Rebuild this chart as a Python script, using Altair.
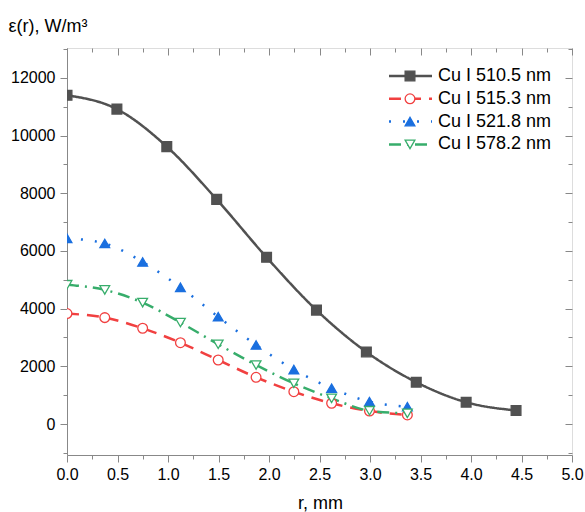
import altair as alt
import pandas as pd

series = ["Cu I 510.5 nm", "Cu I 515.3 nm", "Cu I 521.8 nm", "Cu I 578.2 nm"]

r_510 = [0, 0.494, 0.988, 1.482, 1.976, 2.47, 2.964, 3.458, 3.952, 4.446]
e_510 = [11400, 10920, 9620, 7790, 5780, 3950, 2500, 1450, 755, 470]

r_other = [0, 0.374, 0.749, 1.123, 1.497, 1.872, 2.246, 2.62, 2.995, 3.37]
e_515 = [3830, 3690, 3320, 2820, 2220, 1620, 1120, 720, 450, 315]
e_521 = [6440, 6260, 5620, 4740, 3720, 2740, 1890, 1240, 775, 600]
e_578 = [4830, 4650, 4210, 3520, 2765, 2045, 1410, 890, 460, 370]

x_major = [0, 0.5, 1.0, 1.5, 2.0, 2.5, 3.0, 3.5, 4.0, 4.5, 5.0]
x_minor = [0.25, 0.75, 1.25, 1.75, 2.25, 2.75, 3.25, 3.75, 4.25, 4.75]
y_major = [0, 2000, 4000, 6000, 8000, 10000, 12000]
y_minor = [-1000, 1000, 3000, 5000, 7000, 9000, 11000, 13000]

colors = ["#515151", "#F14040", "#1A6FDF", "#37AD6B"]
fills = ["#515151", "#ffffff", "#1A6FDF", "#ffffff"]
shapes = ["square", "circle", "triangle-up", "triangle-down"]
dashes = [[1, 0], [12, 8], [2, 12], [12, 6, 2, 6]]

rows = []
for r, e in zip(r_510, e_510):
    rows.append({"series": series[0], "r": r, "e": e})
for s, ys in zip(series[1:], [e_515, e_521, e_578]):
    for r, e in zip(r_other, ys):
        rows.append({"series": s, "r": r, "e": e})
df = pd.DataFrame(rows)
leg = pd.DataFrame({"series": series, "i": list(range(len(series)))})

FONT = "Liberation Sans"
xs = alt.Scale(domain=[0, 5], nice=False, zero=False)
ys = alt.Scale(domain=[-1075, 13040], nice=False, zero=False)
col = alt.Scale(domain=series, range=colors)
fil = alt.Scale(domain=series, range=fills)
shp = alt.Scale(domain=series, range=shapes)
dsh = alt.Scale(domain=series, range=dashes)

base = alt.Chart(df)

lines = base.mark_line(strokeWidth=2.5, interpolate="monotone", clip=True).encode(
    x=alt.X("r:Q", scale=xs, axis=alt.Axis(orient="bottom", values=x_major, format=".1f",
             tickSize=7, labelPadding=4, labelFontSize=16, labelFlush=False, labelOverlap=False,
             title="r, mm", titleFontSize=18,
             titleFont=FONT, titleFontWeight="normal", titleX=253, titleY=53,
             titleAlign="center", titleBaseline="alphabetic", grid=False)),
    y=alt.Y("e:Q", scale=ys, axis=alt.Axis(orient="left", values=y_major, format="d",
             tickSize=7, labelPadding=5, labelFontSize=16, labelFlush=False, labelOverlap=False,
             title="ε(r), W/m³",
             titleFontSize=18, titleFont=FONT, titleFontWeight="normal", titleAngle=0,
             titleX=-59, titleY=-17, titleAlign="left", titleBaseline="alphabetic", grid=False)),
    color=alt.Color("series:N", scale=col, legend=None),
    strokeDash=alt.StrokeDash("series:N", scale=dsh, legend=None),
    detail="series:N",
)

points = base.mark_point(size=95, strokeWidth=1.3, opacity=1, fillOpacity=1, clip=True).encode(
    x=alt.X("r:Q", scale=xs, axis=alt.Axis(orient="bottom", values=x_minor, tickSize=4,
             labels=False, domain=False, title=None, grid=False)),
    y=alt.Y("e:Q", scale=ys, axis=alt.Axis(orient="left", values=y_minor, tickSize=4,
             labels=False, domain=False, title=None, grid=False)),
    shape=alt.Shape("series:N", scale=shp, legend=None),
    fill=alt.Fill("series:N", scale=fil, legend=None),
    stroke=alt.Stroke("series:N", scale=col, legend=None),
)

top_major = base.mark_point(opacity=0).encode(
    x=alt.X("r:Q", scale=xs, axis=alt.Axis(orient="top", values=x_major, tickSize=7, offset=-7,
             labels=False, domain=False, title=None, grid=False)),
    y=alt.Y("e:Q", scale=ys, axis=alt.Axis(orient="right", values=y_major, tickSize=7, offset=-7,
             labels=False, domain=False, title=None, grid=False)),
)
top_minor = base.mark_point(opacity=0).encode(
    x=alt.X("r:Q", scale=xs, axis=alt.Axis(orient="top", values=x_minor, tickSize=4, offset=-4,
             labels=False, domain=False, title=None, grid=False)),
    y=alt.Y("e:Q", scale=ys, axis=alt.Axis(orient="right", values=y_minor, tickSize=4, offset=-4,
             labels=False, domain=False, title=None, grid=False)),
)

lbase = alt.Chart(leg).transform_calculate(py="28 + 22.8 * datum.i")
leg_rule = lbase.mark_rule(strokeWidth=2.5).encode(
    x=alt.value(322), x2=alt.value(365),
    y=alt.Y("py:Q", scale=None, axis=None),
    color=alt.Color("series:N", scale=col, legend=None),
    strokeDash=alt.StrokeDash("series:N", scale=dsh, legend=None),
)
leg_pt = lbase.mark_point(size=95, strokeWidth=1.3, opacity=1, fillOpacity=1).encode(
    x=alt.value(343),
    y=alt.Y("py:Q", scale=None, axis=None),
    shape=alt.Shape("series:N", scale=shp, legend=None),
    fill=alt.Fill("series:N", scale=fil, legend=None),
    stroke=alt.Stroke("series:N", scale=col, legend=None),
)
leg_txt = lbase.mark_text(align="left", baseline="middle", fontSize=18, font=FONT, color="black").encode(
    x=alt.value(371),
    y=alt.Y("py:Q", scale=None, axis=None),
    text="series:N",
)

chart = alt.layer(lines, points, top_major, top_minor, leg_rule, leg_pt, leg_txt).resolve_axis(
    x="independent", y="independent"
).properties(
    width=505, height=407,
    autosize=alt.AutoSizeParams(type="none"),
    padding={"left": 67, "top": 48, "right": 13, "bottom": 57},
).configure_view(
    stroke="black", strokeWidth=1.5
).configure_axis(
    labelFont=FONT, labelColor="black", tickColor="black", domainColor="black",
    tickWidth=1.5, domainWidth=1.5, titleColor="black"
).configure(background="white")

chart.save("out.html", embed_options={"renderer": "svg", "actions": False})
